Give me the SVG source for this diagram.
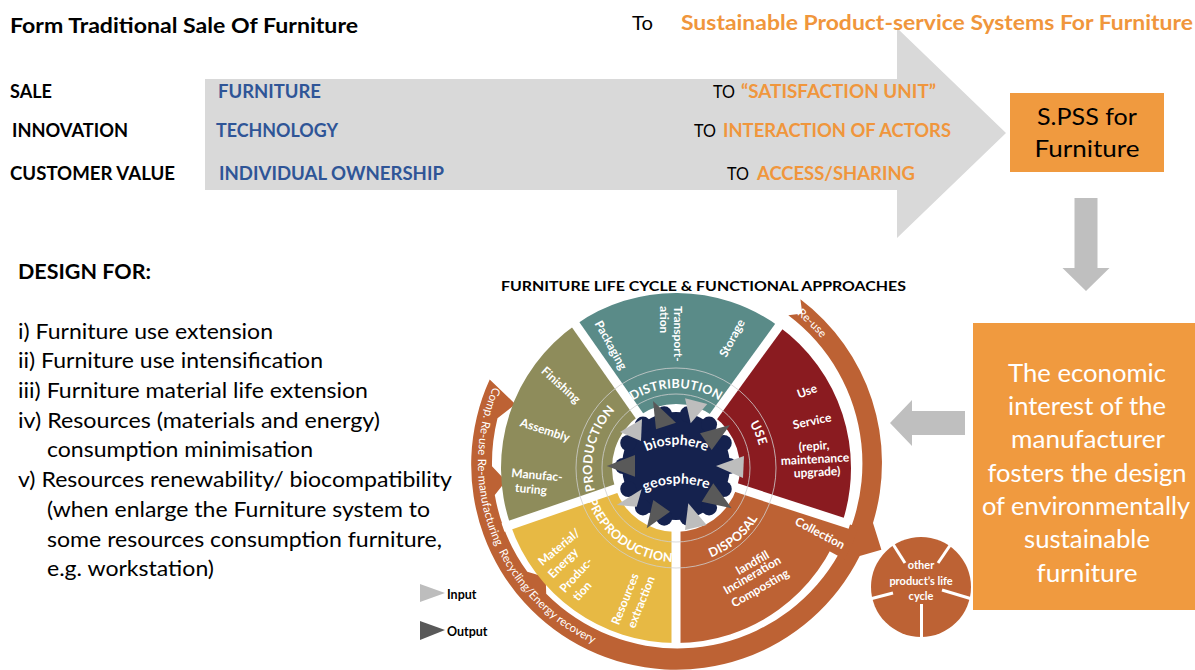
<svg xmlns="http://www.w3.org/2000/svg" width="1195" height="670" viewBox="0 0 1195 670">
  <style>
    text { font-family: Lato, "Liberation Sans", Arial, sans-serif; }
    .bold { font-weight: 700; }
    .head { font-size: 18px; font-weight: 700; fill: #000; }
    .blue { font-size: 18px; font-weight: 700; fill: #2f5597; }
    .to { font-size: 18px; fill: #000; }
    .orng { font-size: 18px; font-weight: 700; fill: #f0963c; }
    .list { font-size: 21px; fill: #000; }
    .boxtxt { font-size: 25px; fill: #fff; text-anchor: middle; }
    .lbl { font-size: 12.5px; font-weight: 700; fill: #fff; letter-spacing: 0.3px; }
    .stg { font-size: 12px; font-weight: 700; fill: #fff; text-anchor: middle; }
    .bandtxt { font-size: 11.5px; fill: #fff; }
    .ring { fill: none; stroke: #cfcfcf; stroke-width: 0.8; }
    .gap { stroke: #fff; stroke-width: 9; }
    .in { fill: #bdbdbd; }
    .out { fill: #595959; }
    .spoke { stroke: #fff; stroke-width: 3; }
    .arr { fill: #bfbfbf; }
  </style>
  <defs>
    <path id="pDist" d="M606.72,428 A80,80 0 0 1 745.28,428" fill="none"/>
    <path id="pUse" d="M701.14,385.76 A86,86 0 0 1 752.63,507.04" fill="none"/>
    <path id="pDisp" d="M651.15,560.73 A96,96 0 0 0 771.63,459.63" fill="none"/>
    <path id="pPre" d="M582.51,458.17 A94,94 0 0 0 714.23,553.87" fill="none"/>
    <path id="pProd" d="M617.65,528.42 A84,84 0 0 1 652.85,387.25" fill="none"/>
    <path id="pReuse" d="M742.3,283.5 A191,191 0 0 1 856.5,397.7" fill="none"/>
    <path id="pLeft" d="M498.1,375.8 A199,199 0 0 0 659.7,661.2" fill="none"/>
    <path id="pBio" d="M640,455 A70,70 0 0 1 713,455" fill="none"/>
    <path id="pGeo" d="M640,494 A80,80 0 0 1 713,491" fill="none"/>
  </defs>

  <rect width="1195" height="670" fill="#fff"/>

  <!-- connectors: the transition arrow and the two block arrows -->
  <g id="connectors">
    <polygon class="trans" fill="#d9d9d9" points="205,79 897,79 897,28 1006,133 897,238 897,190 205,190"/>
    <polygon class="arr" points="1074.5,198 1097.5,198 1097.5,268 1109.5,268 1086,291 1062.5,268 1074.5,268"/>
    <polygon class="arr" points="890,423 912,400 912,411 965,411 965,435 912,435 912,446"/>
  </g>

  <!-- heading line -->
  <g id="heading">
    <text x="10" y="33" class="bold" font-size="21" textLength="348" lengthAdjust="spacingAndGlyphs">Form Traditional Sale Of Furniture</text>
    <text x="632" y="30" font-size="20" textLength="21" lengthAdjust="spacingAndGlyphs">To</text>
    <text x="681" y="30" class="bold" font-size="20" fill="#f0963c" textLength="512" lengthAdjust="spacingAndGlyphs">Sustainable Product-service Systems For Furniture</text>
  </g>

  <!-- comparison rows -->
  <g id="row-sale">
    <text x="10" y="98" class="head" textLength="42" lengthAdjust="spacingAndGlyphs">SALE</text>
    <text x="218" y="98" class="blue" textLength="103" lengthAdjust="spacingAndGlyphs">FURNITURE</text>
    <text x="713" y="98" class="to" textLength="22" lengthAdjust="spacingAndGlyphs">TO</text>
    <text x="741" y="98" class="orng" textLength="195" lengthAdjust="spacingAndGlyphs">“SATISFACTION UNIT”</text>
  </g>
  <g id="row-innovation">
    <text x="12" y="137" class="head" textLength="116" lengthAdjust="spacingAndGlyphs">INNOVATION</text>
    <text x="216" y="137" class="blue" textLength="122" lengthAdjust="spacingAndGlyphs">TECHNOLOGY</text>
    <text x="694" y="137" class="to" textLength="22" lengthAdjust="spacingAndGlyphs">TO</text>
    <text x="723" y="137" class="orng" textLength="228" lengthAdjust="spacingAndGlyphs">INTERACTION OF ACTORS</text>
  </g>
  <g id="row-value">
    <text x="10" y="180" class="head" textLength="165" lengthAdjust="spacingAndGlyphs">CUSTOMER VALUE</text>
    <text x="219" y="180" class="blue" textLength="225" lengthAdjust="spacingAndGlyphs">INDIVIDUAL OWNERSHIP</text>
    <text x="727" y="180" class="to" textLength="22" lengthAdjust="spacingAndGlyphs">TO</text>
    <text x="757" y="180" class="orng" textLength="158" lengthAdjust="spacingAndGlyphs">ACCESS/SHARING</text>
  </g>

  <!-- S.PSS box -->
  <g id="spss">
    <rect x="1010" y="93" width="154" height="79" fill="#f09a3f"/>
    <text x="1087" y="125" font-size="24" text-anchor="middle" textLength="100" lengthAdjust="spacingAndGlyphs">S.PSS for</text>
    <text x="1087" y="157" font-size="24" text-anchor="middle" textLength="105" lengthAdjust="spacingAndGlyphs">Furniture</text>
  </g>

  <!-- manufacturer interest box -->
  <g id="interest">
    <rect x="973" y="323" width="222" height="287" fill="#f09a3f"/>
    <text x="1087" y="382" class="boxtxt" textLength="158" lengthAdjust="spacingAndGlyphs">The economic</text>
    <text x="1087" y="415" class="boxtxt" textLength="158" lengthAdjust="spacingAndGlyphs">interest of the</text>
    <text x="1088" y="448" class="boxtxt" textLength="154" lengthAdjust="spacingAndGlyphs">manufacturer</text>
    <text x="1087" y="482" class="boxtxt" textLength="199" lengthAdjust="spacingAndGlyphs">fosters the design</text>
    <text x="1086" y="515" class="boxtxt" textLength="208" lengthAdjust="spacingAndGlyphs">of environmentally</text>
    <text x="1087" y="548" class="boxtxt" textLength="126" lengthAdjust="spacingAndGlyphs">sustainable</text>
    <text x="1087" y="582" class="boxtxt" textLength="101" lengthAdjust="spacingAndGlyphs">furniture</text>
  </g>

  <!-- design strategies list -->
  <g id="design-for">
    <text x="18" y="279" class="bold" font-size="20" textLength="133" lengthAdjust="spacingAndGlyphs">DESIGN FOR:</text>
    <text x="18" y="339" class="list" textLength="255" lengthAdjust="spacingAndGlyphs">i) Furniture use extension</text>
    <text x="18" y="368" class="list" textLength="305" lengthAdjust="spacingAndGlyphs">ii) Furniture use intensification</text>
    <text x="18" y="398" class="list" textLength="350" lengthAdjust="spacingAndGlyphs">iii) Furniture material life extension</text>
    <text x="18" y="428" class="list" textLength="362" lengthAdjust="spacingAndGlyphs">iv) Resources (materials and energy)</text>
    <text x="47" y="457" class="list" textLength="266" lengthAdjust="spacingAndGlyphs">consumption minimisation</text>
    <text x="18" y="487" class="list" textLength="434" lengthAdjust="spacingAndGlyphs">v) Resources renewability/ biocompatibility</text>
    <text x="47" y="517" class="list" textLength="383" lengthAdjust="spacingAndGlyphs">(when enlarge the Furniture system to</text>
    <text x="47" y="547" class="list" textLength="395" lengthAdjust="spacingAndGlyphs">some resources consumption furniture,</text>
    <text x="47" y="576" class="list" textLength="167" lengthAdjust="spacingAndGlyphs">e.g. workstation)</text>
  </g>

  <text id="cycle-title" x="501" y="291" class="bold" font-size="14" textLength="405" lengthAdjust="spacingAndGlyphs">FURNITURE LIFE CYCLE &amp; FUNCTIONAL APPROACHES</text>

  <!-- outer recovery band with arrow barbs -->
  <g id="recovery-band">
    <path fill="#bd6234" d="M800.4,299.3 A205,205 0 0 1 873,522.9 L881.4,549.7 L859.7,556.1 A205,205 0 0 1 489.7,379.6 L515.4,404.2 L497.5,418.2 A185,185 0 0 0 492,466.2 L505.9,481 L494.8,495.1 A185,185 0 0 0 527.3,571.7 L545.7,577.2 L546.2,593.8 A185,185 0 1 0 788.3,315.3 L802.3,313.6 Z"/>
    <text class="bandtxt"><textPath href="#pReuse" startOffset="48%" text-anchor="middle">Re-use</textPath></text>
    <text class="bandtxt"><textPath href="#pLeft" startOffset="12">Comp. Re-use</textPath></text>
    <text class="bandtxt"><textPath href="#pLeft" startOffset="86">Re-manufacturing</textPath></text>
    <text class="bandtxt"><textPath href="#pLeft" startOffset="182">Recycling/Energy recovery</textPath></text>
  </g>

  <!-- life cycle stages -->
  <g id="stage-production">
    <path fill="#8e8c5b" d="M510.54,524.98 A175,175 0 0 1 575.62,324.64 L639.29,415.57 A64,64 0 0 0 615.49,488.84 Z"/>
  </g>
  <g id="stage-distribution">
    <path fill="#5a8b88" d="M575.62,324.64 A175,175 0 0 1 778.87,326.42 L713.62,416.22 A64,64 0 0 0 639.29,415.57 Z"/>
  </g>
  <g id="stage-use">
    <path fill="#8a1b20" d="M778.87,326.42 A175,175 0 0 1 842.44,522.08 L736.87,487.78 A64,64 0 0 0 713.62,416.22 Z"/>
  </g>
  <g id="stage-disposal">
    <path fill="#bd6234" d="M842.44,522.08 A175,175 0 0 1 676,643 L676,532 A64,64 0 0 0 736.87,487.78 Z"/>
    <path fill="#bd6234" d="M837.7,520.5 L858.6,527.3 A192,192 0 0 1 844.7,559.6 L825.4,549.1 A170,170 0 0 0 837.7,520.5 Z"/>
  </g>
  <g id="stage-preproduction">
    <path fill="#e7b944" d="M676,643 A175,175 0 0 1 510.54,524.98 L615.49,488.84 A64,64 0 0 0 676,532 Z"/>
  </g>

  <!-- white separations between stages and thin guide rings -->
  <g id="separators">
    <line class="gap" x1="676" y1="468" x2="503" y2="527.6"/>
    <line class="gap" x1="676" y1="468" x2="571" y2="318.1"/>
    <line class="gap" x1="676" y1="468" x2="783.6" y2="320"/>
    <line class="gap" x1="676" y1="468" x2="850" y2="524.5"/>
    <line class="gap" x1="676" y1="468" x2="676" y2="645"/>
    <circle class="ring" cx="676" cy="468" r="74"/>
    <circle class="ring" cx="676" cy="468" r="100"/>
  </g>

  <!-- stage names on the inner ring -->
  <g id="stage-labels">
    <text class="lbl"><textPath href="#pDist" startOffset="50%" text-anchor="middle">DISTRIBUTION</textPath></text>
    <text class="lbl"><textPath href="#pUse" startOffset="50%" text-anchor="middle">USE</textPath></text>
    <text class="lbl"><textPath href="#pDisp" startOffset="50%" text-anchor="middle">DISPOSAL</textPath></text>
    <text class="lbl"><textPath href="#pPre" startOffset="50%" text-anchor="middle">PREPRODUCTION</textPath></text>
    <text class="lbl"><textPath href="#pProd" startOffset="50%" text-anchor="middle">PRODUCTION</textPath></text>
  </g>

  <!-- activities inside each stage -->
  <g id="stage-activities">
    <text class="stg" transform="translate(611,345) rotate(61)" dy="0.35em">Packaging</text>
    <text class="stg" style="text-anchor:start" transform="translate(674,306) rotate(90)">Transport-</text>
    <text class="stg" style="text-anchor:start" transform="translate(660,306) rotate(90)">ation</text>
    <text class="stg" transform="translate(732,338) rotate(-62)" dy="0.35em">Storage</text>

    <text class="stg" transform="translate(561,385) rotate(42)" dy="0.35em">Finishing</text>
    <text class="stg" transform="translate(545,430) rotate(18)" dy="0.35em">Assembly</text>
    <text class="stg" transform="translate(537,475) rotate(5)" dy="0.35em">Manufac-</text>
    <text class="stg" transform="translate(531,489) rotate(5)" dy="0.35em">turing</text>

    <text class="stg" transform="translate(807,391) rotate(-20)" dy="0.35em">Use</text>
    <text class="stg" transform="translate(812,421) rotate(-12)" dy="0.35em">Service</text>
    <text class="stg" transform="translate(814,446) rotate(-4)" dy="0.35em">(repir,</text>
    <text class="stg" transform="translate(815,459) rotate(-3)" dy="0.35em">maintenance</text>
    <text class="stg" transform="translate(817,472) rotate(-3)" dy="0.35em">upgrade)</text>

    <text class="stg" transform="translate(820,533) rotate(28)" dy="0.35em">Collection</text>
    <text class="stg" transform="translate(752.5,562.5) rotate(-30)" dy="0.35em">landfill</text>
    <text class="stg" transform="translate(752,575) rotate(-30)" dy="0.35em">Incineration</text>
    <text class="stg" transform="translate(760,588) rotate(-30)" dy="0.35em">Composting</text>

    <text class="stg" transform="translate(559,547) rotate(-40)" dy="0.35em">Material/</text>
    <text class="stg" transform="translate(563,563) rotate(-45)" dy="0.35em">Energy</text>
    <text class="stg" transform="translate(576,575) rotate(-48)" dy="0.35em">Produc-</text>
    <text class="stg" transform="translate(582,591) rotate(-48)" dy="0.35em">tion</text>
    <text class="stg" transform="translate(625,599) rotate(-68)" dy="0.35em">Resources</text>
    <text class="stg" transform="translate(641,602) rotate(-68)" dy="0.35em">extraction</text>
  </g>

  <!-- environment core -->
  <g id="environment" fill="#15224e">
    <circle cx="676" cy="466" r="54"/>
    <circle cx="729" cy="466" r="8"/>
    <circle cx="723.75" cy="489" r="8"/>
    <circle cx="709.05" cy="507.44" r="8"/>
    <circle cx="687.79" cy="517.67" r="8"/>
    <circle cx="664.21" cy="517.67" r="8"/>
    <circle cx="642.95" cy="507.44" r="8"/>
    <circle cx="628.25" cy="489" r="8"/>
    <circle cx="623" cy="466" r="8"/>
    <circle cx="628.25" cy="443" r="8"/>
    <circle cx="642.95" cy="424.56" r="8"/>
    <circle cx="664.21" cy="414.33" r="8"/>
    <circle cx="687.79" cy="414.33" r="8"/>
    <circle cx="709.05" cy="424.56" r="8"/>
    <circle cx="723.75" cy="443" r="8"/>
    <text font-size="14" font-weight="700" fill="#fff"><textPath href="#pBio" startOffset="50%" text-anchor="middle">biosphere</textPath></text>
    <text font-size="14" font-weight="700" fill="#fff"><textPath href="#pGeo" startOffset="50%" text-anchor="middle">geosphere</textPath></text>
  </g>

  <!-- input / output flows around the core -->
  <g id="flows">
    <polygon class="out" points="653,401 676,422.7 656,429.3"/>
    <polygon class="in" points="685,398.3 707.3,404 690.7,423.3"/>
    <polygon class="out" points="700,433.3 730,425 711.7,450"/>
    <polygon class="in" points="716,466 744,456 743,478"/>
    <polygon class="out" points="713.3,483.3 701.7,501.7 731.7,508.3"/>
    <polygon class="in" points="688.3,503.3 706.7,525 685,530"/>
    <polygon class="out" points="653.3,500 670,511.7 646.7,528.3"/>
    <polygon class="in" points="616.7,505 641.7,489.3 636.7,506.7"/>
    <polygon class="out" points="606.7,466 635,455 635,476.7"/>
    <polygon class="in" points="620,432 642,419 641,441"/>
  </g>

  <!-- neighbouring product life cycle -->
  <g id="other-cycle">
    <circle cx="921" cy="587" r="50" fill="#bd6234"/>
    <line class="spoke" x1="905" y1="563" x2="891" y2="541"/>
    <line class="spoke" x1="938" y1="563" x2="951" y2="544"/>
    <line class="spoke" x1="942" y1="590" x2="972" y2="599"/>
    <line class="spoke" x1="893" y1="593" x2="870" y2="599"/>
    <line class="spoke" x1="921.5" y1="604" x2="921.5" y2="640"/>
    <text x="921" y="569" font-size="11" font-weight="700" fill="#fff" text-anchor="middle">other</text>
    <text x="921" y="585" font-size="11" font-weight="700" fill="#fff" text-anchor="middle">product’s life</text>
    <text x="921" y="600" font-size="11" font-weight="700" fill="#fff" text-anchor="middle">cycle</text>
  </g>

  <!-- legend -->
  <g id="legend">
    <polygon class="in" points="420,584 445,593 420,602"/>
    <text x="447" y="599" font-size="12.5" font-weight="700">Input</text>
    <polygon class="out" points="420,621 445,630 420,640"/>
    <text x="447" y="636" font-size="12.5" font-weight="700">Output</text>
  </g>
</svg>
